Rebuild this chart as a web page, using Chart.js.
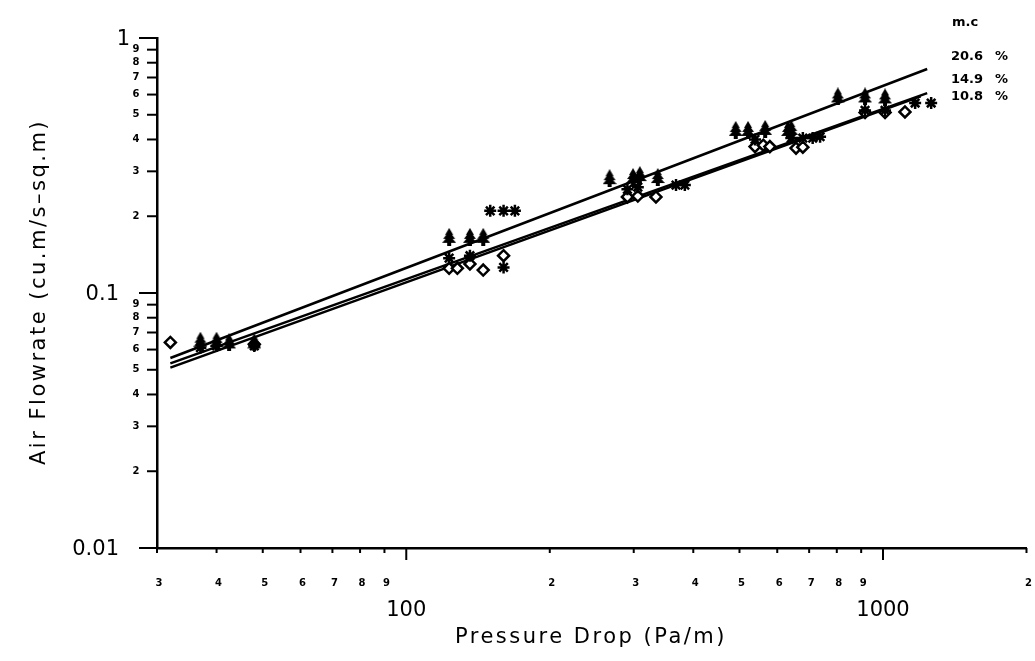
<!DOCTYPE html>
<html lang="en">
<head>
    <meta charset="UTF-8">
    <title>Air Flowrate vs Pressure Drop</title>
    <script src="https://cdn.jsdelivr.net/npm/chart.js"></script>
    <style>
        body {
            margin: 0;
            padding: 0;
            background: #fff;
        }

        .chart-box {
            width: 1035px;
            height: 661px;
            position: relative;
        }
    </style>
</head>
<body>

    <div class="chart-box">
        <canvas id="flowChart"></canvas>
    </div>

    <script>
        // Moisture content series (m.c %)
        const seriesNames = ["20.6", "14.9", "10.8"];

        // 20.6 % - tree markers
        const p206 = [37, 40, 42.5, 48, 123, 136, 145, 267, 299, 309, 337, 491, 521, 566, 632, 642, 804, 917, 1010];
        const q206 = [0.065, 0.065, 0.064, 0.064, 0.166, 0.166, 0.166, 0.282, 0.285, 0.29, 0.285, 0.436, 0.436, 0.44, 0.436, 0.44, 0.59, 0.59, 0.585];

        // 14.9 % - asterisks
        const p149 = [37, 40, 48, 123, 136, 150, 160, 169, 160, 291, 306, 368, 384, 539, 642, 679, 712, 738, 917, 1010, 1168, 1262];
        const q149 = [0.061, 0.062, 0.062, 0.137, 0.14, 0.21, 0.21, 0.21, 0.126, 0.255, 0.26, 0.265, 0.265, 0.40, 0.405, 0.405, 0.405, 0.41, 0.52, 0.52, 0.556, 0.556];

        // 10.8 % - open diamonds
        const p108 = [32, 48, 123, 128, 136, 145, 160, 291, 306, 334, 539, 561, 579, 657, 679, 917, 1010, 1112];
        const q108 = [0.064, 0.063, 0.125, 0.125, 0.13, 0.123, 0.14, 0.238, 0.24, 0.238, 0.375, 0.38, 0.375, 0.37, 0.373, 0.51, 0.51, 0.513];

        // fitted lines (end points)
        const fitP206 = [32, 1238];
        const fitQ206 = [0.0556, 0.756];
        const fitP149 = [32, 1238];
        const fitQ149 = [0.053, 0.608];
        const fitP108 = [32, 1200];
        const fitQ108 = [0.051, 0.59];

        // tick labels
        const xMinorTicks = [30, 40, 50, 60, 70, 80, 90, 200, 300, 400, 500, 600, 700, 800, 900, 2000];
        const xMajorTicks = [100, 1000];
        const yMinorTicks = [0.02, 0.03, 0.04, 0.05, 0.06, 0.07, 0.08, 0.09, 0.2, 0.3, 0.4, 0.5, 0.6, 0.7, 0.8, 0.9];
        const yMajorTicks = [0.01, 0.1, 1];
        const yMajorLabels = ["0.01", "0.1", "1"];

        function toPoints(xs, ys) {
            return xs.map((x, i) => ({ x: x, y: ys[i] }));
        }

        // tree shaped marker (stacked triangles on a short trunk)
        function makeTree() {
            const c = document.createElement("canvas");
            c.width = 14;
            c.height = 18;
            const g = c.getContext("2d");
            g.fillStyle = "#000";
            const tiers = [[0, 7, 4], [3, 11, 6], [7, 15, 7]];
            tiers.forEach(t => {
                g.beginPath();
                g.moveTo(7, t[0]);
                g.lineTo(7 + t[2], t[1]);
                g.lineTo(7 - t[2], t[1]);
                g.closePath();
                g.fill();
            });
            g.fillRect(5, 13, 4, 5);
            return c;
        }
        const treeMarker = makeTree();

        const ink = "#000";

        const lineSet = (xs, ys) => ({
            type: "line",
            data: toPoints(xs, ys),
            borderColor: ink,
            borderWidth: 2.5,
            pointRadius: 0,
            fill: false,
            tension: 0
        });

        // axis ticks, labels and legend drawn over the chart
        const axisDecor = {
            id: "axisDecor",
            afterDraw(chart) {
                const g = chart.ctx;
                const xs = chart.scales.x;
                const ys = chart.scales.y;
                const left = chart.chartArea.left;
                const bottom = chart.chartArea.bottom;

                g.save();
                g.strokeStyle = ink;
                g.fillStyle = ink;
                g.lineWidth = 2;

                // y ticks
                yMinorTicks.forEach(v => {
                    const py = ys.getPixelForValue(v);
                    g.beginPath();
                    g.moveTo(left - 10, py);
                    g.lineTo(left, py);
                    g.stroke();
                });
                yMajorTicks.forEach(v => {
                    const py = ys.getPixelForValue(v);
                    g.beginPath();
                    g.moveTo(left - 18, py);
                    g.lineTo(left, py);
                    g.stroke();
                });

                // x ticks
                xMinorTicks.forEach(v => {
                    const px = xs.getPixelForValue(v);
                    g.beginPath();
                    g.moveTo(px, bottom);
                    g.lineTo(px, bottom + 5);
                    g.stroke();
                });
                xMajorTicks.forEach(v => {
                    const px = xs.getPixelForValue(v);
                    g.beginPath();
                    g.moveTo(px, bottom);
                    g.lineTo(px, bottom + 12);
                    g.stroke();
                });

                // small digit labels
                g.font = "bold 10px 'DejaVu Sans'";
                g.textAlign = "center";
                g.textBaseline = "middle";
                yMinorTicks.forEach(v => {
                    const digit = Math.round(v / Math.pow(10, Math.floor(Math.log10(v) + 1e-9)));
                    g.fillText(String(digit), left - 21, ys.getPixelForValue(v));
                });
                xMinorTicks.forEach(v => {
                    const digit = Math.round(v / Math.pow(10, Math.floor(Math.log10(v) + 1e-9)));
                    g.fillText(String(digit), xs.getPixelForValue(v) + 2, bottom + 35);
                });

                // decade labels
                g.font = "21px 'DejaVu Sans'";
                g.textAlign = "right";
                yMajorTicks.forEach((v, i) => {
                    const tx = v === 1 ? left - 27 : left - 38;
                    g.fillText(yMajorLabels[i], tx, ys.getPixelForValue(v) + 2);
                });
                g.textAlign = "center";
                xMajorTicks.forEach(v => {
                    g.fillText(String(v), xs.getPixelForValue(v), bottom + 63);
                });

                // axis titles
                g.font = "21px 'DejaVu Sans'";
                g.letterSpacing = "2.5px";
                g.fillText("Pressure Drop (Pa/m)", 591, bottom + 90);
                g.save();
                g.translate(40, 292);
                g.rotate(-Math.PI / 2);
                g.fillText("Air Flowrate (cu.m/s\u2013sq.m)", 0, 0);
                g.restore();
                g.letterSpacing = "0px";

                // legend
                g.font = "bold 13px 'DejaVu Sans'";
                g.textAlign = "center";
                g.fillText("m.c", 965, 23);
                const legendY = [57, 80, 97];
                seriesNames.forEach((name, i) => {
                    g.textAlign = "left";
                    g.fillText(name, 951, legendY[i]);
                    g.fillText("%", 995, legendY[i]);
                });

                g.restore();
            }
        };

        const ctx = document.getElementById("flowChart").getContext("2d");
        const flowChart = new Chart(ctx, {
            type: "scatter",
            data: {
                datasets: [
                    {
                        label: "20.6 %",
                        data: toPoints(p206, q206),
                        pointStyle: treeMarker,
                        pointRadius: 7,
                        backgroundColor: ink,
                        borderColor: ink
                    },
                    {
                        label: "14.9 %",
                        data: toPoints(p149, q149),
                        pointStyle: "star",
                        pointRadius: 6,
                        borderWidth: 2.5,
                        backgroundColor: ink,
                        borderColor: ink
                    },
                    {
                        label: "10.8 %",
                        data: toPoints(p108, q108),
                        pointStyle: "rectRot",
                        pointRadius: 5.5,
                        borderWidth: 2.5,
                        backgroundColor: "#fff",
                        borderColor: ink
                    },
                    lineSet(fitP206, fitQ206),
                    lineSet(fitP149, fitQ149),
                    lineSet(fitP108, fitQ108)
                ]
            },
            options: {
                responsive: true,
                maintainAspectRatio: false,
                animation: false,
                layout: {
                    padding: { left: 157, top: 38, right: 7, bottom: 113 }
                },
                plugins: {
                    legend: { display: false },
                    tooltip: { enabled: false }
                },
                scales: {
                    x: {
                        type: "logarithmic",
                        min: 30,
                        max: 2000,
                        ticks: { display: false },
                        grid: { display: false, drawTicks: false },
                        border: { display: true, color: ink, width: 2.5 }
                    },
                    y: {
                        type: "logarithmic",
                        min: 0.01,
                        max: 1,
                        ticks: { display: false },
                        grid: { display: false, drawTicks: false },
                        border: { display: true, color: ink, width: 2.5 }
                    }
                }
            },
            plugins: [axisDecor]
        });
    </script>
</body>
</html>
